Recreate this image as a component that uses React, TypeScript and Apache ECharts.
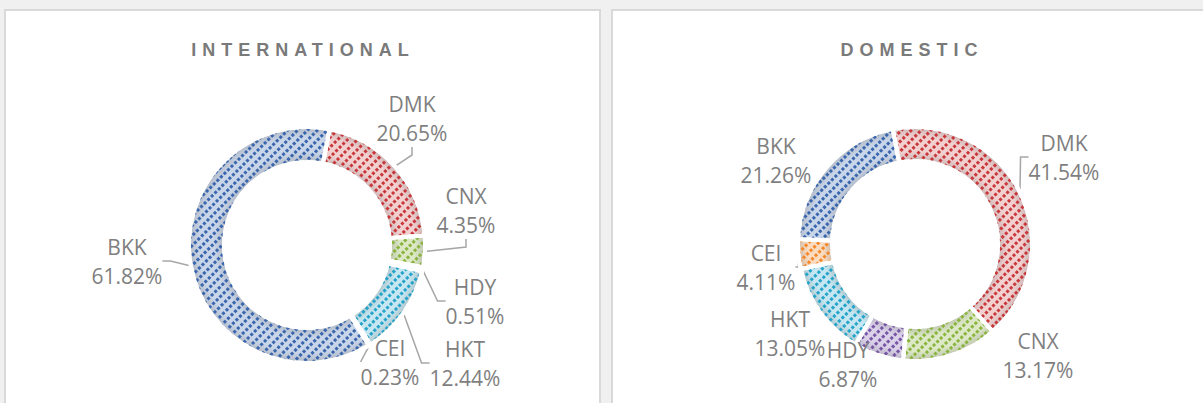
import React, { useEffect, useRef } from 'react';
import * as echarts from 'echarts';

// ---- data ----
const categories = ['DMK', 'CNX', 'HDY', 'HKT', 'CEI', 'BKK'];
const internationalShare = [20.65, 4.35, 0.51, 12.44, 0.23, 61.82];
const domesticShare = [41.54, 13.17, 6.87, 13.05, 4.11, 21.26];
const panelTitles = ['INTERNATIONAL', 'DOMESTIC'];

// ---- styles ----
const patternColors = ['#c8383a', '#8ab43e', '#7856a6', '#25a3c9', '#f3892a', '#3a66ad'];
const baseColors = ['#f2d0d0', '#dde9c6', '#dbd2ea', '#c6e7f2', '#fcdcc0', '#c9d6ea'];

// label layout (pixel centres of the label blocks)
const intlLabelPos = [[412, 118], [466, 210], [475, 301], [465, 363], [390, 362], [127, 261]];
const domLabelPos = [[1064, 157], [1038, 355], [848, 364], [790, 333], [766, 267], [776, 160]];
const intlLabelLine = [true, true, true, true, true, true];
const domLabelLine = [true, false, false, false, true, false];

function mix(a: string, b: string, t: number) {
  const pa = [1, 3, 5].map((i) => parseInt(a.slice(i, i + 2), 16));
  const pb = [1, 3, 5].map((i) => parseInt(b.slice(i, i + 2), 16));
  const c = pa.map((v, i) => Math.round(v * (1 - t) + pb[i] * t));
  return '#' + c.map((v) => v.toString(16).padStart(2, '0')).join('');
}

function pieSeries(
  values: number[],
  center: number[],
  radius: number[],
  startAngle: number,
  labelPos: number[][],
  lineShow: boolean[]
) {
  const r0 = radius[0] / radius[1];
  const band = 1 - r0;
  return {
    type: 'pie',
    center,
    radius,
    startAngle,
    clockwise: true,
    avoidLabelOverlap: false,
    z: 3,
    data: categories.map((name, i) => {
      const light = baseColors[i];
      const shade = mix(light, '#8c8c8c', 0.4);
      return {
        name,
        value: values[i],
        itemStyle: {
          color: {
            type: 'radial',
            x: center[0],
            y: center[1],
            r: radius[1],
            global: true,
            colorStops: [
              { offset: 0, color: shade },
              { offset: r0, color: shade },
              { offset: r0 + band * 0.3, color: light },
              { offset: 1 - band * 0.3, color: light },
              { offset: 1, color: shade },
            ],
          },
          decal: {
            symbol: 'rect',
            symbolSize: 1,
            color: patternColors[i],
            dashArrayX: [2.5, 1.5],
            dashArrayY: [2.2, 3.6],
            rotation: -Math.PI / 4,
          },
          borderColor: '#ffffff',
          borderWidth: 4,
        },
        labelLine: { show: lineShow[i] },
      };
    }),
    label: {
      show: true,
      position: 'outside',
      formatter: (p: any) => `${p.name}\n${Number(p.value).toFixed(2)}%`,
      color: '#7f7f7f',
      fontSize: 21,
      lineHeight: 29,
      fontFamily: 'Open Sans',
      align: 'center',
    },
    labelLine: {
      show: true,
      length: 10,
      length2: 8,
      lineStyle: { color: '#a6a6a6', width: 1.5 },
    },
    labelLayout: (p: any) => ({
      x: labelPos[p.dataIndex][0],
      y: labelPos[p.dataIndex][1],
      align: 'center',
      verticalAlign: 'middle',
    }),
    emphasis: { disabled: true },
  };
}

export default function App() {
  const ref = useRef<HTMLDivElement>(null);
  useEffect(() => {
    if (!ref.current) return;
    const chart = echarts.init(ref.current, null, { renderer: 'svg' });
    chart.setOption({
      animation: false,
      backgroundColor: '#f0f0f0',
      graphic: [
        {
          type: 'rect',
          z: 0,
          shape: { x: 5, y: 10, width: 595, height: 420 },
          style: { fill: '#ffffff', stroke: '#d9d9d9', lineWidth: 2 },
        },
        {
          type: 'rect',
          z: 0,
          shape: { x: 612, y: 10, width: 600, height: 420 },
          style: { fill: '#ffffff', stroke: '#d9d9d9', lineWidth: 2 },
        },
        {
          type: 'text',
          z: 1,
          x: 303,
          y: 50,
          style: {
            text: panelTitles[0],
            font: 'bold 18px "Liberation Sans", Arial, sans-serif',
            fill: '#7a7a7a',
            textAlign: 'center',
            textVerticalAlign: 'middle',
          },
        },
        {
          type: 'text',
          z: 1,
          x: 912,
          y: 50,
          style: {
            text: panelTitles[1],
            font: 'bold 18px "Liberation Sans", Arial, sans-serif',
            fill: '#7a7a7a',
            textAlign: 'center',
            textVerticalAlign: 'middle',
          },
        },
      ],
      series: [
        pieSeries(internationalShare, [307, 245], [83, 118], 79, intlLabelPos, intlLabelLine),
        pieSeries(domesticShare, [915, 244], [83, 117], 101, domLabelPos, domLabelLine),
      ],
    });
    // letter-spaced titles
    const texts = ref.current.querySelectorAll('text');
    texts.forEach((t) => {
      if (panelTitles.includes((t.textContent || '').trim())) {
        (t as SVGTextElement).style.letterSpacing = '6px';
      }
    });
    return () => chart.dispose();
  }, []);
  return (
    <div
      ref={ref}
      style={{ position: 'fixed', left: 0, top: 0, width: 1203, height: 403 }}
    />
  );
}
